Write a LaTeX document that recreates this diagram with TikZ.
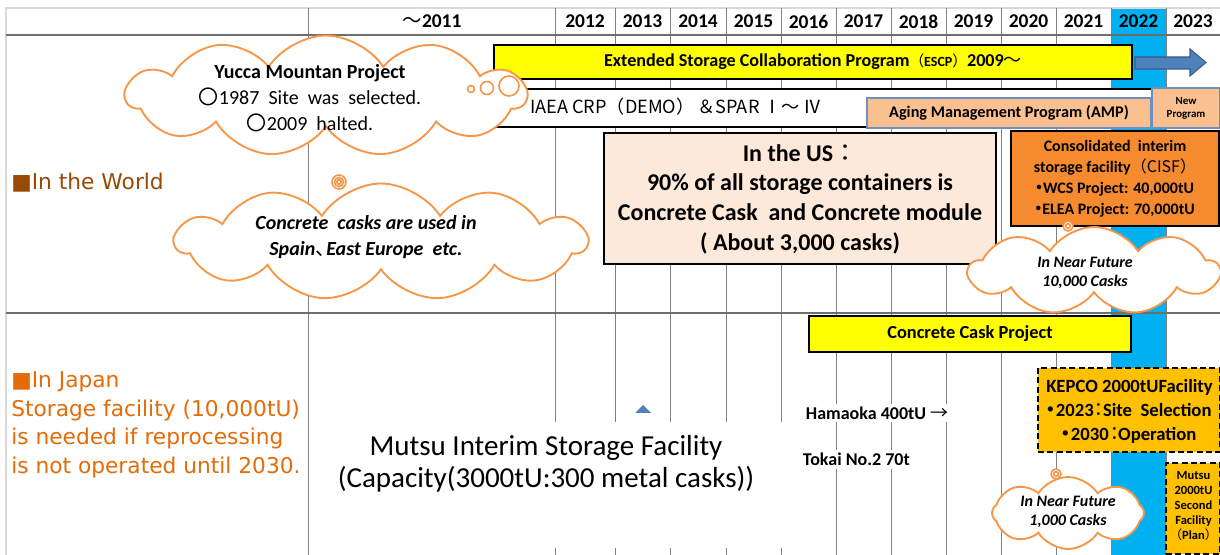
\documentclass[tikz,border=0pt]{standalone}
\usepackage{fontspec}
\setmainfont{Carlito}
\newfontfamily\cjk{Noto Sans CJK JP}
\newfontfamily\dvs{DejaVu Sans}
\usetikzlibrary{shapes.symbols}
\definecolor{blueCol}{HTML}{00B0F0}
\definecolor{barYellow}{HTML}{FFFF00}
\definecolor{arrowBlue}{HTML}{4F81BD}
\definecolor{arrowEdge}{HTML}{385D8A}
\definecolor{ampFill}{HTML}{FAC090}
\definecolor{ampEdge}{HTML}{6F8FBF}
\definecolor{usPeach}{HTML}{FDE9D9}
\definecolor{cisfOrange}{HTML}{F58A2E}
\definecolor{kepcoAmber}{HTML}{FFC000}
\definecolor{cloudOrange}{HTML}{F79646}
\definecolor{worldBrown}{HTML}{984807}
\definecolor{japanOrange}{HTML}{E36C09}
\definecolor{gridGray}{HTML}{808080}
\definecolor{lightBorder}{HTML}{D9D9D9}
\definecolor{hdrGray}{HTML}{6E6E6E}
\newcommand\jdot{\kern-0.3em{\cjk ・}\kern-0.25em}
\newcommand\jcolon{\kern-0.2em{\cjk\mdseries ：}\kern-0.3em}
\tikzset{
  px/.style 2 args={minimum width=#1*0.75pt, minimum height=#2*0.75pt},
  gridline/.style={draw=gridGray, line width=0.7pt},
  hdrline/.style={draw=hdrGray, line width=1.3pt},
  yearlbl/.style={font=\bfseries\fontsize{14.6}{17}\selectfont, inner sep=0},
  barbox/.style={draw=black, line width=1.5pt, fill=barYellow, inner sep=0},
  ampbox/.style={draw=ampEdge, line width=1pt, fill=ampFill, inner sep=0, align=center},
  blackbox/.style={draw=black, line width=1.5pt, inner sep=0, align=center},
  dashbox/.style={draw=black, line width=1.6pt, dash pattern=on 4.5pt off 2.5pt, fill=kepcoAmber, inner sep=0},
  cloudbox/.style={cloud, cloud ignores aspect, cloud puffs=#1, cloud puff arc=115, draw=cloudOrange, line width=1.4pt, fill=white, inner sep=0},
  bubble/.style={draw=cloudOrange, line width=1.2pt, fill=white},
  txt/.style={inner sep=0, align=center},
  cover/.style={fill=white, inner sep=2pt}
}
\begin{document}
\begin{tikzpicture}[x=0.75pt, y=-0.75pt]
\useasboundingbox (0,0) rectangle (1220,555);
\fill[white] (0,0) rectangle (1220,555);
% 2022 column
\fill[blueCol] (1111,8) rectangle (1166,555);
% grid
\draw[draw=lightBorder, line width=1pt] (6,555) -- (6,8) -- (1220,8);
\foreach \x in {308,555,615,670,726,781,836,891,946,1001,1056,1111,1166}
  \draw[gridline] (\x,8) -- (\x,555);
\draw[hdrline] (6,35) -- (1220,35);
\draw[hdrline] (6,313) -- (1220,313);
% header
\node[yearlbl] (y2011) at (432,21.5) {{\cjk\mdseries ～}2011};
\foreach \yr/\x in {2012/585,2013/642.5,2014/698,2015/753.5,2016/808.5,2017/863.5,2018/918.5,2019/973.5,2020/1028.5,2021/1083.5,2022/1138.5,2023/1193}
  \node[yearlbl] (y\yr) at (\x,21.5) {\yr};
% ESCP bar and arrow
\node[barbox, px={638}{34}] (escp) at (813,62)
  {\bfseries\fontsize{13.6}{16}\selectfont Extended Storage Collaboration Program{\cjk\mdseries\fontsize{11}{12}\selectfont （}{\fontsize{10.5}{12}\selectfont ESCP}{\cjk\mdseries\fontsize{11}{12}\selectfont ）}2009{\cjk\mdseries ～}};
\draw[fill=arrowBlue, draw=arrowEdge, line width=0.8pt] (1135,57) -- (1190,57) -- (1190,49) -- (1206,62.5) -- (1190,76) -- (1190,69) -- (1135,69) -- cycle;
% IAEA box
\node[draw=black, line width=1.3pt, fill=white, px={676}{38}, inner sep=0] (iaea) at (814,108) {};
\node[txt, anchor=west, font=\cjk\fontsize{13.6}{15}\selectfont] (iaeaT) at (530,106.5) {IAEA\ CRP（DEMO）\,＆SPAR\ Ⅰ～ Ⅳ};
\node[ampbox, px={284}{30}, font=\bfseries\fontsize{12.2}{14}\selectfont] (amp) at (1009,113) {Aging Management Program (AMP)};
\node[ampbox, px={68}{40}, font=\bfseries\fontsize{8.2}{9.8}\selectfont] (newp) at (1186,108) {New\\Program};
% US box
\node[blackbox, fill=usPeach, px={392}{131}, font=\bfseries\fontsize{18}{22.3}\selectfont] (us) at (800,199)
  {In the US{\cjk\mdseries ：}\\90\% of all storage containers is\\Concrete Cask\ \ and Concrete module\\( About 3,000 casks)};
% CISF
\node[blackbox, fill=cisfOrange, px={208}{95}, font=\bfseries\fontsize{12}{15.75}\selectfont] (cisf) at (1115,178.5)
  {Consolidated\ \ interim\\storage facility{\cjk\mdseries （CISF）}\\\jdot WCS Project: 40,000tU\\\jdot ELEA Project: 70,000tU};
% Yucca cloud
\node[cloudbox=11, px={400}{121}] (yucca) at (326,96) {};
\draw[bubble] (471,89) circle (3.5);
\draw[bubble] (487,88) circle (6.5);
\draw[bubble] (509,86) circle (10);
\node[txt, font=\fontsize{15}{19.5}\selectfont] (yuccaT) at (310,98)
  {{\bfseries Yucca Mountan Project}\\{\cjk 〇}1987\ \ Site\ \ was\ \ selected.\\{\cjk 〇}2009\ \ halted.};
% Concrete casks cloud
\node[cloudbox=11, px={411}{117}] (ccloud) at (381,242) {};
\draw[bubble] (339,182) circle (7);
\draw[bubble] (339,182) circle (4.5);
\draw[bubble] (339,182) circle (2.2);
\node[txt, font=\bfseries\itshape\fontsize{15}{19.5}\selectfont] (ccloudT) at (366,237)
  {Concrete\ \ casks are used in\\Spain{\cjk\upshape\mdseries 、}\kern-0.45em East Europe\ \ etc.};
% 10,000 cloud
\node[cloudbox=9, px={250}{88}] (c10k) at (1094,271) {};
\draw[bubble] (1068,226) circle (5);
\draw[bubble] (1068,226) circle (2.3);
\node[txt, font=\bfseries\itshape\fontsize{12}{14.25}\selectfont] (c10kT) at (1085,272.5) {In Near Future\\10,000 Casks};
% Japan row
\node[barbox, px={322}{36}, font=\bfseries\fontsize{13.8}{16}\selectfont] (ccp) at (970,334) {Concrete Cask Project};
\node[dashbox, px={182}{84}] (kepco) at (1129,410) {};
\node[txt, font=\bfseries\fontsize{14}{18}\selectfont] (kepcoT) at (1129.5,411)
  {KEPCO 2000tUFacility\\\jdot 2023\jcolon Site\ \ Selection\\\jdot 2030\jcolon Operation};
\node[dashbox, px={54}{91}] (mutsu2) at (1193,508.5) {};
\node[txt, font=\bfseries\fontsize{9.4}{11.25}\selectfont] (mutsu2T) at (1193.5,506)
  {Mutsu\\2000tU\\Second\\Facility\\{\cjk\mdseries （}Plan{\cjk\mdseries ）}};
% Mutsu main
\node[fill=white, inner sep=0, px={484}{126}] (mutsuArea) at (553,485) {};
\node[txt, font=\fontsize{21.75}{24}\selectfont] (mutsuT) at (546,463.5)
  {Mutsu Interim Storage Facility\\(Capacity(3000tU:300 metal casks))};
\fill[arrowBlue] (635,413) -- (651,413) -- (643,405) -- cycle;
\node[cover, anchor=west, font=\bfseries\fontsize{13.5}{16}\selectfont] (hamaoka) at (803,413) {Hamaoka 400tU {\cjk\mdseries →}};
\node[cover, anchor=west, font=\bfseries\fontsize{13.5}{16}\selectfont] (tokai) at (800,459.5) {Tokai No.2 70t};
% 1,000 cloud
\node[cloudbox=8, px={152}{72}] (c1k) at (1068,513) {};
\draw[bubble] (1056,474) circle (5);
\draw[bubble] (1056,474) circle (2.3);
\node[txt, font=\bfseries\itshape\fontsize{12}{14.25}\selectfont] (c1kT) at (1068,511.5) {In Near Future\\1,000 Casks};
% left labels
\node[txt, anchor=west, text=worldBrown, font=\dvs\fontsize{16.3}{21.5}\selectfont] (world) at (11,183) {■In the World};
\node[txt, anchor=west, align=left, text=japanOrange, font=\dvs\fontsize{16.3}{21.5}\selectfont] (japan) at (11,425)
  {■In Japan\\Storage facility (10,000tU)\\is needed if reprocessing\\is not operated until 2030.};
\end{tikzpicture}
\end{document}
